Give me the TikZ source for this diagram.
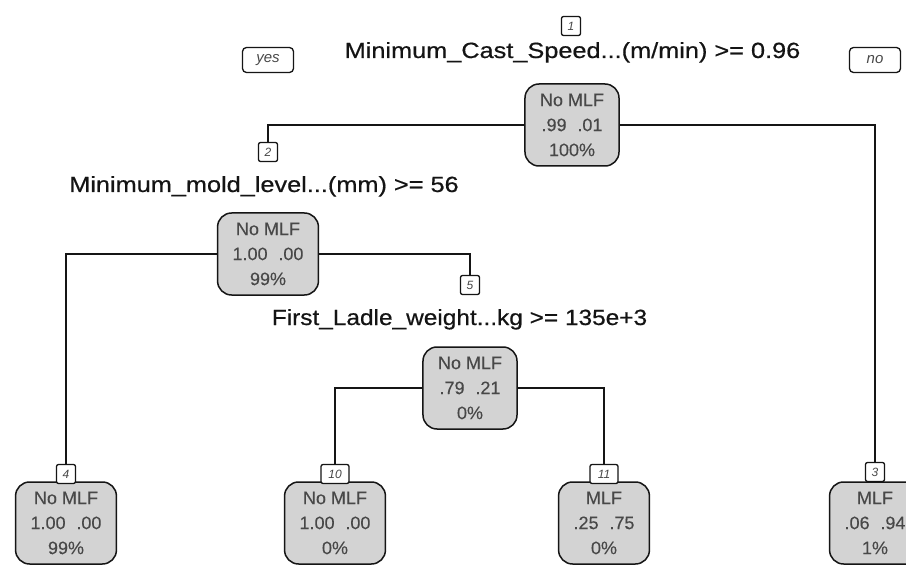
\documentclass[tikz,border=0pt]{standalone}
\usepackage{fontspec}
\setmainfont{Liberation Sans}
\newfontfamily\splitfont{Liberation Sans}[FakeBold=0.5]
\newfontfamily\nodefont{Liberation Sans}[FakeBold=0.2]
\usepackage{graphicx}
\definecolor{nodefill}{HTML}{D3D3D3}
\definecolor{nodetext}{HTML}{484848}
\definecolor{edgecol}{HTML}{151515}
\tikzset{
 tnode/.style={draw=edgecol, line width=1.5pt, fill=nodefill, rounded corners=14pt,
   minimum height=82pt, inner xsep=15pt, align=center, text=nodetext,
   font=\nodefont\fontsize{18}{25}\selectfont},
 numbox/.style={draw=edgecol, line width=1.3pt, fill=white, rounded corners=2pt,
   minimum width=19pt, minimum height=19pt, inner sep=1.5pt,
   font=\fontsize{12}{12}\selectfont\itshape, text=nodetext},
 sidebox/.style={draw=edgecol, line width=1.3pt, fill=white, rounded corners=4pt,
   minimum width=51pt, minimum height=25pt,
   font=\fontsize{15}{15}\selectfont\itshape, text=nodetext},
 split/.style={font=\splitfont\fontsize{22}{26}\selectfont, text=black!92, anchor=base, inner sep=0pt},
 conn/.style={draw=edgecol, line width=2.7pt}
}
\newcommand{\gapsp}{\hskip .6em}
\begin{document}
\begin{tikzpicture}[x=1pt,y=-1pt]
\useasboundingbox (0,0) rectangle (906,567);
\fill[white] (0,0) rectangle (906,567);
\clip (0,0) rectangle (906,567);
% inner nodes
\node[tnode] (n1) at (572,125) {No MLF\\.99\gapsp.01\\100\%};
\node[tnode] (n2) at (268,254) {No MLF\\1.00\gapsp.00\\99\%};
\node[tnode] (n5) at (470,388) {No MLF\\.79\gapsp.21\\0\%};
% leaves
\node[tnode] (n4) at (66,523) {No MLF\\1.00\gapsp.00\\99\%};
\node[tnode] (n10) at (335,523) {No MLF\\1.00\gapsp.00\\0\%};
\node[tnode] (n11) at (604,523) {MLF\\.25\gapsp.75\\0\%};
\node[tnode] (n3) at (875,523) {MLF\\.06\gapsp.94\\1\%};
% number boxes
\node[numbox] (b1) at (571,26) {1};
\node[numbox] (b2) at (268,152) {2};
\node[numbox] (b5) at (470,285) {5};
\node[numbox] (b4) at (66,474) {4};
\node[numbox, minimum width=28pt] (b10) at (335,474) {10};
\node[numbox, minimum width=28pt] (b11) at (604,474) {11};
\node[numbox] (b3) at (875,472) {3};
% split labels
\node[split] (s1) at (572.5,58) {\scalebox{1.15}[1]{Minimum\_Cast\_Speed...(m/min) >= 0.96}};
\node[split] (s2) at (264,192) {\scalebox{1.15}[1]{Minimum\_mold\_level...(mm) >= 56}};
\node[split] (s5) at (459.5,325) {\scalebox{1.11}[1]{First\_Ladle\_weight...kg >= 135e+3}};
% yes / no
\node[sidebox] (yes) at (268,60) {yes};
\node[sidebox] (no) at (875,60) {no};
% connectors
\draw[conn] (n1.west) -| (b2.north);
\draw[conn] (n1.east) -| (b3.north);
\draw[conn] (n2.west) -| (b4.north);
\draw[conn] (n2.east) -| (b5.north);
\draw[conn] (n5.west) -| (b10.north);
\draw[conn] (n5.east) -| (b11.north);
\end{tikzpicture}
\end{document}
